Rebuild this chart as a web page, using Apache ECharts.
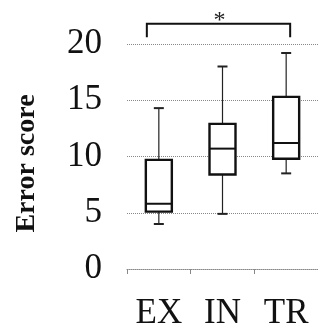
<!DOCTYPE html>
<html>
<head>
<meta charset="utf-8">
<script src="https://cdn.jsdelivr.net/npm/echarts@6/dist/echarts.min.js"></script>
<style>
  html, body { margin: 0; padding: 0; background: #fff; }
  #chart { width: 318px; height: 333px; }
</style>
</head>
<body>
<div id="chart"></div>
<script>
// groups on the x axis
var groups = ['EX', 'IN', 'TR']
// [lower whisker, Q1, median, Q3, upper whisker]
var boxLow = [4.0, 4.9, 8.5]
var boxQ1 = [5.1, 8.4, 9.8]
var boxMedian = [5.8, 10.7, 11.2]
var boxQ3 = [9.7, 12.9, 15.3]
var boxHigh = [14.3, 18.0, 19.2]
// y axis ticks
var yTicks = [0, 5, 10, 15, 20]
// significance bracket: from group, to group, bracket top, leg bottom, mark
var sigFrom = ['EX']
var sigTo = ['TR']
var sigTop = [21.8]
var sigLeg = [20.6]
var sigMark = ['*']

var boxData = groups.map(function (g, i) {
  return [i, boxLow[i], boxQ1[i], boxMedian[i], boxQ3[i], boxHigh[i]]
})
var sigData = sigFrom.map(function (f, i) {
  return [groups.indexOf(f), groups.indexOf(sigTo[i]), sigTop[i], sigLeg[i]]
})

var chart = echarts.init(document.getElementById('chart'))
var serif = 'Liberation Serif, Times New Roman, serif'

chart.setOption({
  animation: false,
  grid: { left: 127, right: -4, top: 44, bottom: 64 },
  xAxis: {
    type: 'category',
    data: groups,
    boundaryGap: true,
    axisLine: { show: true, lineStyle: { color: '#888', type: 'dotted', width: 1 } },
    axisTick: { show: true, length: 5, lineStyle: { color: '#888' } },
    axisLabel: { color: '#111', fontFamily: serif, fontSize: 35, margin: 27 },
    splitLine: { show: false }
  },
  yAxis: {
    type: 'value',
    min: yTicks[0],
    max: yTicks[yTicks.length - 1],
    interval: 5,
    name: 'Error score',
    nameLocation: 'middle',
    nameGap: 86,
    nameTextStyle: { color: '#111', fontFamily: serif, fontSize: 28, fontWeight: 'bold', padding: [0, 14, 0, 0] },
    axisLine: { show: false },
    axisTick: { show: false },
    axisLabel: { color: '#111', fontFamily: serif, fontSize: 35, margin: 25 },
    splitLine: { show: true, lineStyle: { color: '#888', type: 'dotted', width: 1 } }
  },
  series: [
    {
      type: 'custom',
      data: boxData,
      renderItem: function (params, api) {
        var x = api.value(0)
        var lo = api.coord([x, api.value(1)])
        var q1 = api.coord([x, api.value(2)])
        var md = api.coord([x, api.value(3)])
        var q3 = api.coord([x, api.value(4)])
        var hi = api.coord([x, api.value(5)])
        var cx = lo[0]
        var hw = 13
        var cw = 5
        var thin = { stroke: '#222', lineWidth: 1.2 }
        var thick = { stroke: '#111', lineWidth: 2.4, fill: '#fff' }
        return {
          type: 'group',
          children: [
            { type: 'line', shape: { x1: cx, y1: hi[1], x2: cx, y2: q3[1] }, style: thin },
            { type: 'line', shape: { x1: cx, y1: lo[1], x2: cx, y2: q1[1] }, style: thin },
            { type: 'line', shape: { x1: cx - cw, y1: hi[1], x2: cx + cw, y2: hi[1] }, style: { stroke: '#222', lineWidth: 2 } },
            { type: 'line', shape: { x1: cx - cw, y1: lo[1], x2: cx + cw, y2: lo[1] }, style: { stroke: '#222', lineWidth: 2 } },
            { type: 'rect', shape: { x: cx - hw, y: q3[1], width: hw * 2, height: q1[1] - q3[1] }, style: thick },
            { type: 'line', shape: { x1: cx - hw, y1: md[1], x2: cx + hw, y2: md[1] }, style: { stroke: '#111', lineWidth: 2 } }
          ]
        }
      }
    },
    {
      type: 'custom',
      data: sigData,
      renderItem: function (params, api) {
        var a = api.coord([api.value(0), api.value(2)])
        var b = api.coord([api.value(1), api.value(2)])
        var leg = api.coord([api.value(0), api.value(3)])
        var x1 = a[0] - 12
        var x2 = b[0] + 4
        var st = { stroke: '#111', lineWidth: 2, fill: null }
        return {
          type: 'group',
          children: [
            { type: 'polyline', shape: { points: [[x1, leg[1]], [x1, a[1]], [x2, a[1]], [x2, leg[1]]] }, style: st },
            {
              type: 'text',
              x: (x1 + x2) / 2 + 1,
              y: a[1] + 9,
              style: {
                text: sigMark[params.dataIndex],
                fill: '#222',
                font: '24px ' + serif,
                align: 'center',
                verticalAlign: 'bottom'
              }
            }
          ]
        }
      }
    }
  ]
})
</script>
</body>
</html>
